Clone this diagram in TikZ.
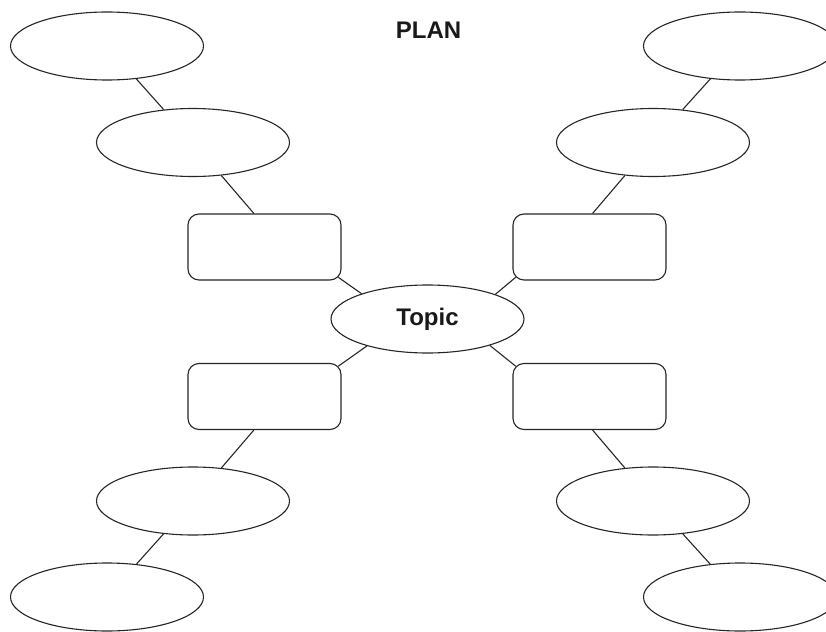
\documentclass[tikz,border=0pt]{standalone}
\usepackage{fontspec}
\setmainfont{Liberation Sans}
\usetikzlibrary{shapes.geometric,calc}
\begin{document}
\begin{tikzpicture}[x=1pt,y=-1pt,
  wire/.style={draw=black!85,line width=1.1pt},
  bubble/.style={ellipse,wire,fill=white,minimum width=193pt,minimum height=68pt,inner sep=0pt},
  box/.style={rectangle,rounded corners=11pt,wire,minimum width=153pt,minimum height=66pt,inner sep=0pt},
  heading/.style={font=\bfseries\fontsize{24}{28}\selectfont,text=black!90}]
\clip (0,0) rectangle (826,631);

% title
\node[heading,anchor=base] (plan) at (428.5,38.3) {PLAN};

% centre
\node[bubble,heading] (topic) at (427.5,319) {Topic};

% four boxes around the centre
\node[box] (rtl) at (264.5,247) {};
\node[box] (rtr) at (589.5,247) {};
\node[box] (rbl) at (264.5,396.5) {};
\node[box] (rbr) at (589.5,396.5) {};

% outer bubbles
\node[bubble] (tli) at (193,142.5) {};
\node[bubble] (tlo) at (107,46) {};
\node[bubble] (tri) at (653,142.5) {};
\node[bubble] (tro) at (740,46) {};
\node[bubble] (bli) at (193,501) {};
\node[bubble] (blo) at (107,597) {};
\node[bubble] (bri) at (653,501) {};
\node[bubble] (bro) at (740,597) {};

% connectors
\draw[wire] (tlo) -- (tli);
\draw[wire] (tli) -- ($(rtl.north west)!0.431!(rtl.north east)$);
\draw[wire] ($(rtl.south east)+(-3.2,-3.2)$) -- (topic.159);
\draw[wire] (topic.204) -- ($(rbl.north east)+(-3.2,3.2)$);
\draw[wire] ($(rbl.south west)!0.431!(rbl.south east)$) -- (bli);
\draw[wire] (bli) -- (blo);

\draw[wire] (tro) -- (tri);
\draw[wire] (tri) -- ($(rtr.north west)!0.52!(rtr.north east)$);
\draw[wire] ($(rtr.south west)+(3.2,-3.2)$) -- (topic.20);
\draw[wire] (topic.-23) -- ($(rbr.north west)+(3.2,3.2)$);
\draw[wire] ($(rbr.south west)!0.52!(rbr.south east)$) -- (bri);
\draw[wire] (bri) -- (bro);
\end{tikzpicture}
\end{document}
